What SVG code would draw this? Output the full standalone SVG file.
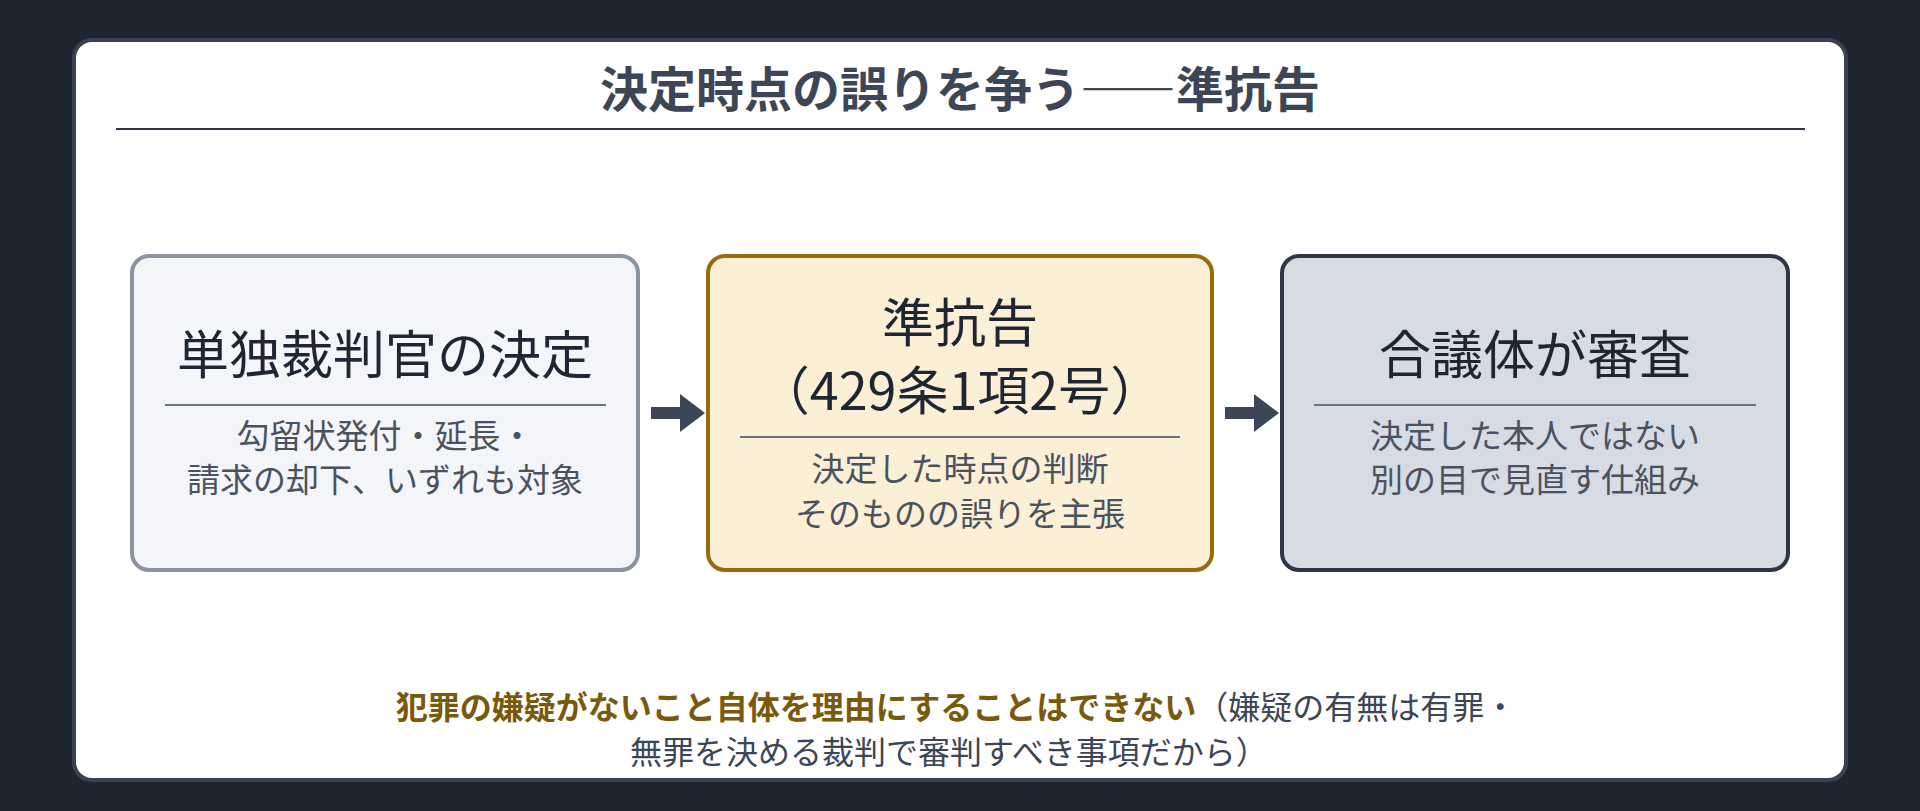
<svg xmlns="http://www.w3.org/2000/svg" width="1920" height="811" viewBox="0 0 1920 811">
<defs>
<style>
text{font-family:"Noto Sans CJK JP","Noto Sans",sans-serif;text-anchor:middle}
.t{font-size:48px;font-weight:bold;fill:#3d4656}
.h{font-size:52px;fill:#1f2633}
.s{font-size:33px;fill:#4a5260}
.b{font-size:32px;fill:#3d4656}
.rule{stroke:#6b7380;stroke-width:2}
.ar{fill:#3d4656}
</style>
</defs>
<rect width="1920" height="811" fill="#1e2530"/>
<rect x="74" y="40" width="1772" height="740" rx="18" fill="#fff" stroke="#3a4252" stroke-width="4"/>
<g id="title">
<text class="t" x="960" y="107">決定時点の誤りを争う――準抗告</text>
<line x1="116" y1="129" x2="1805" y2="129" stroke="#2e3746" stroke-width="2"/>
</g>
<g id="n1">
<rect x="132" y="256" width="506" height="314" rx="17" fill="#f3f5f8" stroke="#8a93a0" stroke-width="4"/>
<text class="h" x="385" y="374">単独裁判官の決定</text>
<line class="rule" x1="165" y1="405" x2="606" y2="405"/>
<text class="s" x="385" y="448">勾留状発付・延長・</text>
<text class="s" x="385" y="492">請求の却下、いずれも対象</text>
</g>
<g id="n2">
<rect x="708" y="256" width="504" height="314" rx="17" fill="#fbefd5" stroke="#9a6a10" stroke-width="4"/>
<text class="h" x="960" y="342">準抗告</text>
<text class="h" x="960" y="410">&#xFF08;429条1項2号&#xFF09;</text>
<line class="rule" x1="740" y1="437" x2="1180" y2="437"/>
<text class="s" x="960" y="481">決定した時点の判断</text>
<text class="s" x="960" y="526">そのものの誤りを主張</text>
</g>
<g id="n3">
<rect x="1282" y="256" width="506" height="314" rx="17" fill="#d7dbe3" stroke="#2e3746" stroke-width="4"/>
<text class="h" x="1535" y="374">合議体が審査</text>
<line class="rule" x1="1314" y1="405" x2="1756" y2="405"/>
<text class="s" x="1535" y="448">決定した本人ではない</text>
<text class="s" x="1535" y="492">別の目で見直す仕組み</text>
</g>
<g id="connectors">
<path class="ar" d="M651,407 H680 V394 L705,413 L680,432 V419 H651 Z"/>
<path class="ar" d="M1225,407 H1254 V394 L1279,413 L1254,432 V419 H1225 Z"/>
</g>
<g id="note">
<text class="b" x="956" y="719"><tspan font-weight="bold" fill="#7a5a0a">犯罪の嫌疑がないこと自体を理由にすることはできない</tspan>&#xFF08;嫌疑の有無は有罪・</text>
<text class="b" x="949" y="764">無罪を決める裁判で審判すべき事項だから&#xFF09;</text>
</g>
</svg>
